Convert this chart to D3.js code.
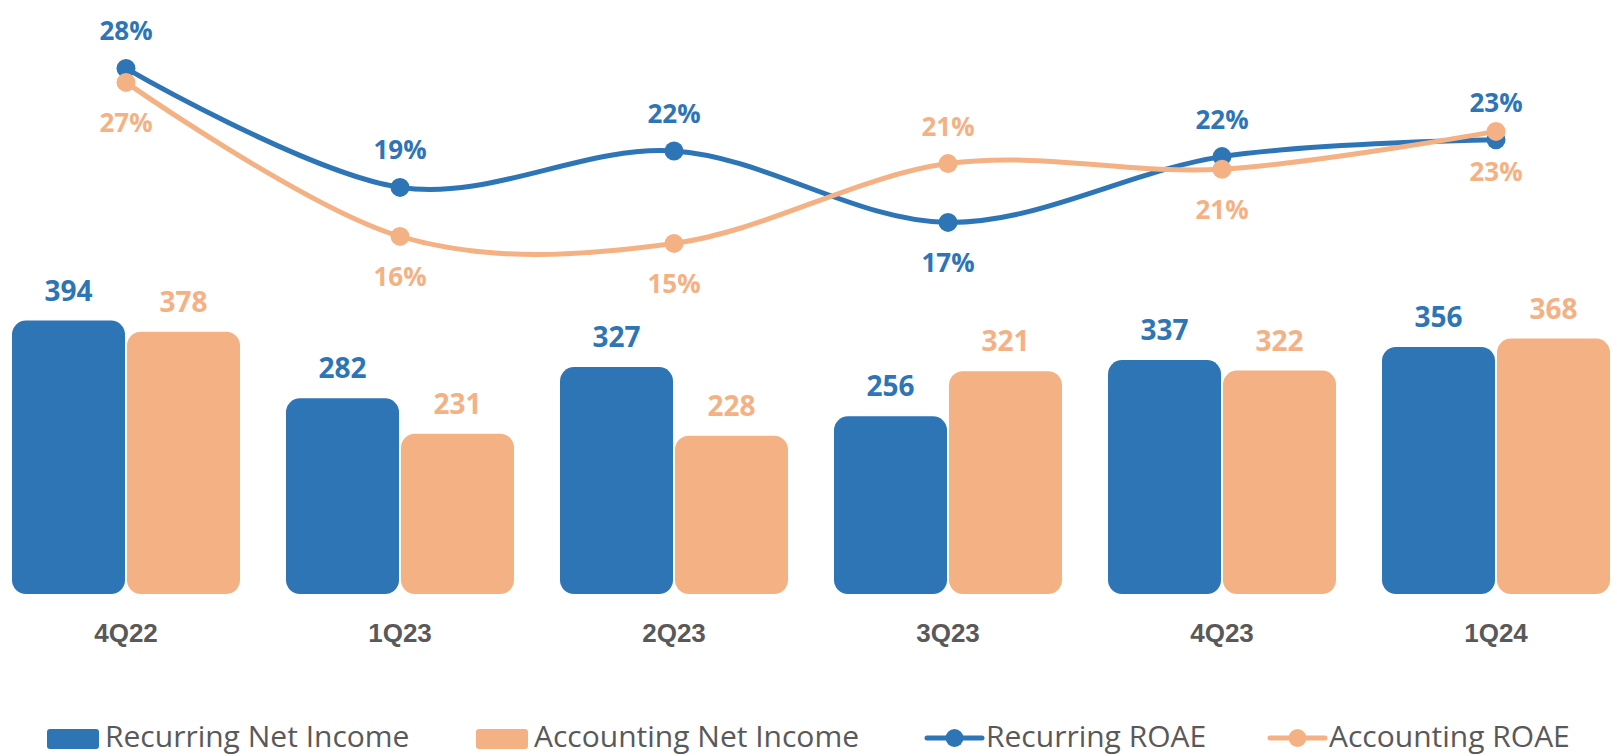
<!DOCTYPE html>
<html>
  <head>
    <meta charset="utf-8" />
    <script src="https://d3js.org/d3.v7.min.js"></script>
    <title>Net Income and ROAE</title>
    <style>
      body {
        margin: 0px;
        background: #ffffff;
        font-family: 'Open Sans', sans-serif;
      }
      .bar-label {
        font-size: 28px;
        font-weight: bold;
        text-anchor: middle;
      }
      .pct-label {
        font-size: 26px;
        font-weight: bold;
        text-anchor: middle;
      }
      .tick text {
        fill: #595959;
        font-size: 26px;
        font-weight: bold;
      }
      .domain,
      .tick line {
        display: none;
      }
      .legend text {
        fill: #595959;
        font-size: 30px;
      }
    </style>
  </head>
  <body>
    <script>
      const quarters = ['4Q22', '1Q23', '2Q23', '3Q23', '4Q23', '1Q24'];
      const recurringNetIncome = [394, 282, 327, 256, 337, 356];
      const accountingNetIncome = [378, 231, 228, 321, 322, 368];
      const recurringRoae = [27.9, 19.4, 22.0, 16.9, 21.6, 22.8];
      const accountingRoae = [26.9, 15.9, 15.4, 21.1, 20.7, 23.4];
      // where each percent label sits relative to its point
      const recurringLabelSide = ['above', 'above', 'above', 'below', 'above', 'above'];
      const accountingLabelSide = ['below', 'below', 'below', 'above', 'below', 'below'];

      const blue = '#2E75B6';
      const orange = '#F4B183';

      const width = 1617;
      const height = 756;

      const svg = d3
        .select('body')
        .append('svg')
        .attr('width', width)
        .attr('height', height);

      const barSeries = [
        { key: 'recurring', name: 'Recurring Net Income', values: recurringNetIncome, color: blue },
        { key: 'accounting', name: 'Accounting Net Income', values: accountingNetIncome, color: orange },
      ];
      const lineSeries = [
        { key: 'recurring', name: 'Recurring ROAE', values: recurringRoae, sides: recurringLabelSide, color: blue },
        { key: 'accounting', name: 'Accounting ROAE', values: accountingRoae, sides: accountingLabelSide, color: orange },
      ];

      const xScale = d3.scaleBand().domain(quarters).range([-11, 1633]).padding(0);
      const xSub = d3
        .scaleBand()
        .domain(barSeries.map((d) => d.key))
        .range([0, xScale.bandwidth()])
        .paddingInner(0.017)
        .paddingOuter(0.2);
      const yBar = d3.scaleLinear().domain([0, 400]).range([594, 316.4]);
      const yLine = d3.scaleLinear().domain([0, 30]).range([459, 39]);
      const xCenter = (q) => xScale(q) + xScale.bandwidth() / 2;

      // bars
      const barG = svg.append('g');
      barSeries.forEach((s) => {
        const rows = quarters.map((q, i) => ({ q, v: s.values[i] }));
        barG
          .selectAll(null)
          .data(rows)
          .enter()
          .append('rect')
          .attr('x', (d) => xScale(d.q) + xSub(s.key))
          .attr('y', (d) => yBar(d.v))
          .attr('width', xSub.bandwidth())
          .attr('height', (d) => yBar(0) - yBar(d.v))
          .attr('rx', 14)
          .attr('fill', s.color);
        barG
          .selectAll(null)
          .data(rows)
          .enter()
          .append('text')
          .attr('class', 'bar-label')
          .attr('x', (d) => xScale(d.q) + xSub(s.key) + xSub.bandwidth() / 2)
          .attr('y', (d) => yBar(d.v) - 20)
          .attr('fill', s.color)
          .text((d) => d.v);
      });

      // category axis
      const xAxis = d3.axisBottom(xScale).tickSize(0).tickPadding(0);
      svg
        .append('g')
        .attr('transform', 'translate(0, 622)')
        .call(xAxis)
        .selectAll('.tick text')
        .attr('dy', '0.77em');

      // ROAE lines
      const line = d3
        .line()
        .x((d) => xCenter(d.q))
        .y((d) => yLine(d.v))
        .curve(d3.curveCardinal.tension(0));

      const lineG = svg.append('g');
      lineSeries.forEach((s) => {
        const rows = quarters.map((q, i) => ({ q, v: s.values[i], side: s.sides[i] }));
        lineG
          .append('path')
          .attr('d', line(rows))
          .attr('fill', 'none')
          .attr('stroke', s.color)
          .attr('stroke-width', 5);
        lineG
          .selectAll(null)
          .data(rows)
          .enter()
          .append('circle')
          .attr('cx', (d) => xCenter(d.q))
          .attr('cy', (d) => yLine(d.v))
          .attr('r', 9.5)
          .attr('fill', s.color);
        s.rows = rows;
      });
      lineSeries.forEach((s) => {
        lineG
          .selectAll(null)
          .data(s.rows)
          .enter()
          .append('text')
          .attr('class', 'pct-label')
          .attr('x', (d) => xCenter(d.q))
          .attr('y', (d) => yLine(d.v) + (d.side === 'above' ? -28 : 50))
          .attr('fill', s.color)
          .text((d) => Math.round(d.v) + '%');
      });

      // legend
      const legend = svg.append('g').attr('class', 'legend');
      const legendY = 738;
      const legendX = [47, 476, 927, 1270];
      barSeries.forEach((s, i) => {
        const g = legend.append('g').attr('transform', `translate(${legendX[i]},${legendY})`);
        g.append('rect')
          .attr('x', 0)
          .attr('y', -9)
          .attr('width', 52)
          .attr('height', 20)
          .attr('rx', 3)
          .attr('fill', s.color);
        g.append('text').attr('x', 58).attr('y', 9).text(s.name);
      });
      lineSeries.forEach((s, i) => {
        const g = legend.append('g').attr('transform', `translate(${legendX[i + 2]},${legendY})`);
        g.append('line')
          .attr('x1', 0)
          .attr('x2', 55)
          .attr('stroke', s.color)
          .attr('stroke-width', 5)
          .attr('stroke-linecap', 'round');
        g.append('circle').attr('cx', 27.5).attr('r', 9).attr('fill', s.color);
        g.append('text').attr('x', 59).attr('y', 9).text(s.name);
      });
    </script>
  </body>
</html>
